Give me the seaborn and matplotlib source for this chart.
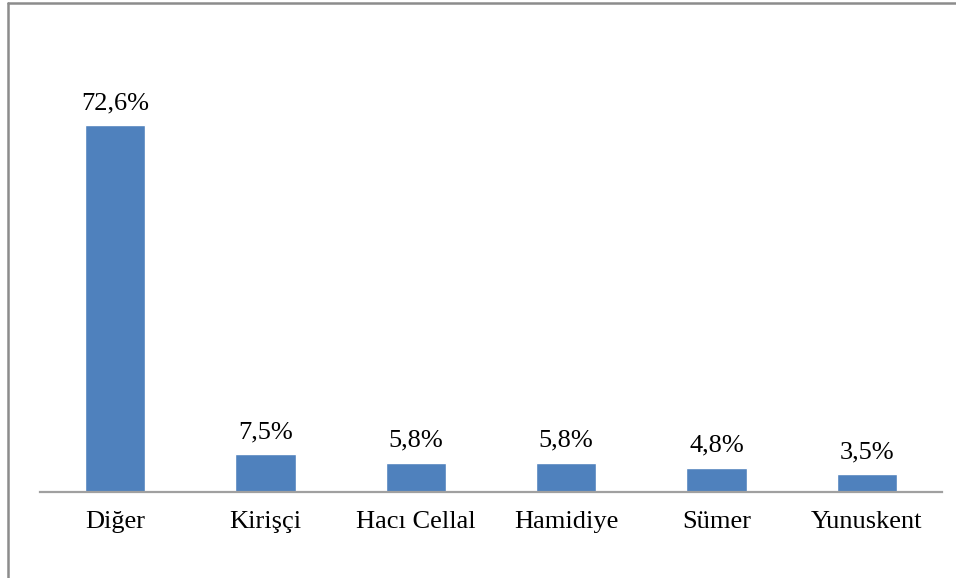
import matplotlib
matplotlib.use("Agg")
import matplotlib.pyplot as plt
from matplotlib.lines import Line2D
import seaborn as sns
import pandas as pd

categories = ["Diğer", "Kirişçi", "Hacı Cellal", "Hamidiye", "Sümer", "Yunuskent"]
shares = [72.6, 7.5, 5.8, 5.8, 4.8, 3.5]
share_labels = ["72,6%", "7,5%", "5,8%", "5,8%", "4,8%", "3,5%"]

df = pd.DataFrame({"category": categories, "share": shares})

sns.set_theme(style="white")
plt.rcParams["font.family"] = ["Liberation Serif", "DejaVu Serif"]

W, H = 956, 578
fig = plt.figure(figsize=(W / 100, H / 100), dpi=100)
ax = fig.add_axes([40 / W, (H - 492) / H, 902 / W, (492 - 88) / H])

sns.barplot(data=df, x="category", y="share", color="#4F81BD",
            saturation=1, width=0.4, ax=ax, order=categories)

ax.set_ylim(0, 80)
ax.set_xlim(-0.5, len(categories) - 0.5)
ax.set_xlabel("")
ax.set_ylabel("")
ax.set_yticks([])
for side in ("top", "left", "right"):
    ax.spines[side].set_visible(False)
ax.spines["bottom"].set_color("#A0A0A0")
ax.spines["bottom"].set_linewidth(1.6)
ax.tick_params(axis="x", length=0, pad=14, labelsize=19, colors="black")

ax.bar_label(ax.containers[0], labels=share_labels, padding=8, fontsize=19, color="black")

# outer frame along the left and top edges
fig.add_artist(Line2D([7.5 / W, 7.5 / W], [0, 1 - 2.5 / H], transform=fig.transFigure,
                      color="#8C8C8C", linewidth=1.8))
fig.add_artist(Line2D([7.5 / W, 1], [1 - 2.5 / H, 1 - 2.5 / H], transform=fig.transFigure,
                      color="#8C8C8C", linewidth=1.8))

fig.savefig("out.png", dpi=100)
